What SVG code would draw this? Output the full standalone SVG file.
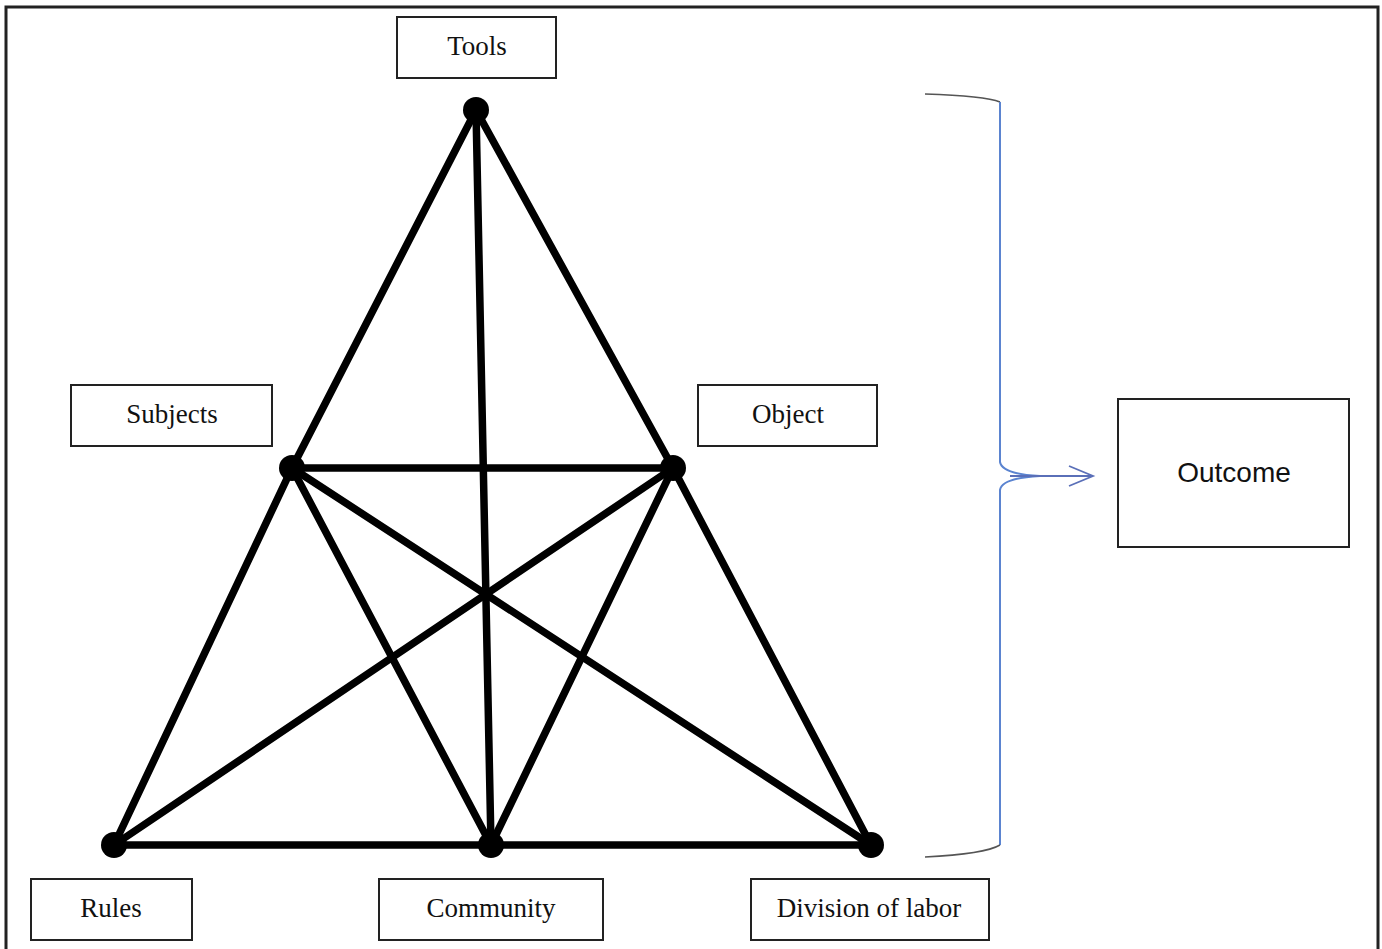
<svg xmlns="http://www.w3.org/2000/svg" width="1382" height="949" viewBox="0 0 1382 949">
<style>
.box{fill:#fff;stroke:#222;stroke-width:2}
.lbl{font-family:"Liberation Serif",serif;font-size:27px;fill:#111;text-anchor:middle}
.edge{stroke:#000;stroke-width:7.5;stroke-linecap:round}
.dot{fill:#000}
</style>
<defs>
<marker id="chev" markerWidth="30" markerHeight="24" refX="26" refY="12" orientation="auto" markerUnits="userSpaceOnUse">
<path d="M2,2 L26,12 L2,22" fill="none" stroke="#5a6fb8" stroke-width="1.8"/>
</marker>
</defs>
<rect x="0" y="0" width="1382" height="949" fill="#fff"/>
<rect x="6" y="7" width="1372" height="960" fill="none" stroke="#222" stroke-width="3"/>
<g id="connectors">
<line class="edge" x1="476" y1="110" x2="292" y2="468"/>
<line class="edge" x1="476" y1="110" x2="673" y2="468"/>
<line class="edge" x1="476" y1="110" x2="491" y2="845"/>
<line class="edge" x1="292" y1="468" x2="673" y2="468"/>
<line class="edge" x1="292" y1="468" x2="114" y2="845"/>
<line class="edge" x1="292" y1="468" x2="491" y2="845"/>
<line class="edge" x1="292" y1="468" x2="871" y2="845"/>
<line class="edge" x1="673" y1="468" x2="114" y2="845"/>
<line class="edge" x1="673" y1="468" x2="491" y2="845"/>
<line class="edge" x1="673" y1="468" x2="871" y2="845"/>
<line class="edge" x1="114" y1="845" x2="871" y2="845"/>
<path d="M925,94 Q985,96 1000,102" fill="none" stroke="#555" stroke-width="1.5"/>
<path d="M1000,102 L1000,462 Q1002,474 1040,476 Q1002,478 1000,490 L1000,845" fill="none" stroke="#5b84d0" stroke-width="2"/>
<path d="M1000,845 Q985,854 925,857" fill="none" stroke="#555" stroke-width="1.5"/>
<line x1="1010" y1="476" x2="1093" y2="476" stroke="#5a6fb8" stroke-width="1.8" marker-end="url(#chev)"/>
</g>
<g id="dots">
<circle class="dot" cx="476" cy="110" r="13"/>
<circle class="dot" cx="292" cy="468" r="13"/>
<circle class="dot" cx="673" cy="468" r="13"/>
<circle class="dot" cx="114" cy="845" r="13"/>
<circle class="dot" cx="491" cy="845" r="13"/>
<circle class="dot" cx="871" cy="845" r="13"/>
</g>
<g id="tools"><rect class="box" x="397" y="17" width="159" height="61"/><text class="lbl" x="477" y="55">Tools</text></g>
<g id="subjects"><rect class="box" x="71" y="385" width="201" height="61"/><text class="lbl" x="172" y="423">Subjects</text></g>
<g id="object"><rect class="box" x="698" y="385" width="179" height="61"/><text class="lbl" x="788" y="423">Object</text></g>
<g id="rules"><rect class="box" x="31" y="879" width="161" height="61"/><text class="lbl" x="111" y="917">Rules</text></g>
<g id="community"><rect class="box" x="379" y="879" width="224" height="61"/><text class="lbl" x="491" y="917">Community</text></g>
<g id="division"><rect class="box" x="751" y="879" width="238" height="61"/><text class="lbl" x="869" y="917">Division of labor</text></g>
<g id="outcome"><rect class="box" x="1118" y="399" width="231" height="148"/><text x="1234" y="482" font-family="'Liberation Sans',sans-serif" font-size="28" fill="#111" text-anchor="middle">Outcome</text></g>
</svg>
